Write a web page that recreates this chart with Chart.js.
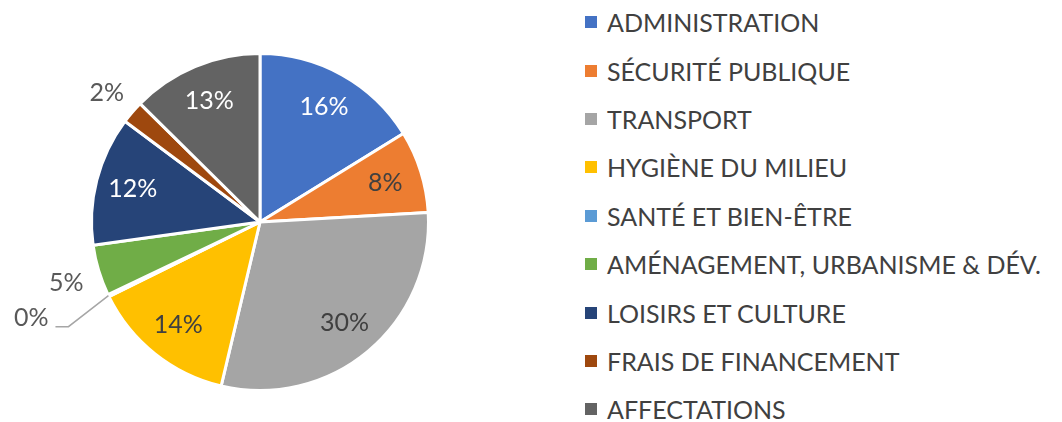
<!DOCTYPE html>
<html>
<head>
<meta charset="utf-8">
<script src="https://cdn.jsdelivr.net/npm/chart.js@4/dist/chart.umd.min.js"></script>
<style>
  body { margin: 0; background: #fff; }
  #wrap { position: relative; width: 1062px; height: 422px; }
  #pieBox { position: absolute; left: 0; top: 0; width: 540px; height: 422px; }
  #legend { position: absolute; left: 585px; top: 0; font-family: Lato, sans-serif; font-size: 25px; color: #404040; }
  .row { height: 48.4px; display: flex; align-items: center; white-space: nowrap; }
  .row:first-child { margin-top: -2px; }
  .sq { width: 12px; height: 12px; margin-right: 10px; flex: none; }
</style>
</head>
<body>
<div id="wrap">
  <div id="pieBox"><canvas id="myChart"></canvas></div>
  <div id="legend"></div>
</div>
<script>
const categories = ['ADMINISTRATION', 'SÉCURITÉ PUBLIQUE', 'TRANSPORT', 'HYGIÈNE DU MILIEU',
  'SANTÉ ET BIEN-ÊTRE', 'AMÉNAGEMENT, URBANISME & DÉV.', 'LOISIRS ET CULTURE',
  'FRAIS DE FINANCEMENT', 'AFFECTATIONS'];
const shares = [16.2, 7.9, 29.6, 14.0, 0.2, 4.9, 12.4, 2.2, 12.6];
const colors = ['#4472C4', '#ED7D31', '#A5A5A5', '#FFC000', '#5B9BD5', '#70AD47', '#264478', '#9E480E', '#636363'];

// where each percent label goes, and its colour
const labelMode = ['in', 'in', 'in', 'in', 'leader', 'out', 'in', 'out', 'in'];
const labelColor = ['#fff', '#404040', '#404040', '#404040', '#595959', '#595959', '#fff', '#595959', '#fff'];

const pctLabels = {
  id: 'pctLabels',
  afterDatasetsDraw(chart) {
    const ctx = chart.ctx;
    const arcs = chart.getDatasetMeta(0).data;
    const total = shares.reduce((a, b) => a + b, 0);
    ctx.save();
    ctx.font = '25px Lato, sans-serif';
    ctx.textBaseline = 'middle';
    arcs.forEach(function(arc, i) {
      const p = arc.getProps(['x', 'y', 'startAngle', 'endAngle', 'outerRadius'], true);
      const mid = (p.startAngle + p.endAngle) / 2;
      const R = p.outerRadius;
      const txt = Math.round(shares[i] / total * 100) + '%';
      ctx.fillStyle = labelColor[i];
      if (labelMode[i] === 'in') {
        ctx.textAlign = 'center';
        ctx.fillText(txt, p.x + Math.cos(mid) * R * 0.78, p.y + Math.sin(mid) * R * 0.78);
      } else if (labelMode[i] === 'out') {
        ctx.textAlign = 'center';
        ctx.fillText(txt, p.x + Math.cos(mid) * R * 1.2, p.y + Math.sin(mid) * R * 1.2 + 3);
      } else {
        // leader line for the tiny slice
        const ex = p.x + Math.cos(mid) * R, ey = p.y + Math.sin(mid) * R;
        const bx = ex - 40, by = ey + 31;
        ctx.strokeStyle = '#A6A6A6';
        ctx.lineWidth = 1.5;
        ctx.beginPath();
        ctx.moveTo(ex, ey);
        ctx.lineTo(bx, by);
        ctx.lineTo(bx - 13, by);
        ctx.stroke();
        ctx.textAlign = 'right';
        ctx.fillText(txt, bx - 20, by - 9);
      }
    });
    ctx.restore();
  }
};

const ctx = document.getElementById('myChart');
const chart = new Chart(ctx, {
  type: 'pie',
  data: {
    labels: categories,
    datasets: [{
      data: shares,
      backgroundColor: colors,
      borderColor: '#fff',
      borderWidth: 3,
      hoverOffset: 0
    }]
  },
  options: {
    responsive: true,
    maintainAspectRatio: false,
    animation: false,
    layout: { padding: { left: 90, right: 110, top: 52, bottom: 30 } },
    plugins: {
      legend: { display: false },
      tooltip: { enabled: false }
    }
  },
  plugins: [pctLabels]
});

// legend beside the pie
const legend = document.getElementById('legend');
categories.forEach(function(name, i) {
  const row = document.createElement('div');
  row.className = 'row';
  const sq = document.createElement('span');
  sq.className = 'sq';
  sq.style.background = colors[i];
  const t = document.createElement('span');
  t.textContent = name;
  row.appendChild(sq);
  row.appendChild(t);
  legend.appendChild(row);
});
</script>
</body>
</html>
